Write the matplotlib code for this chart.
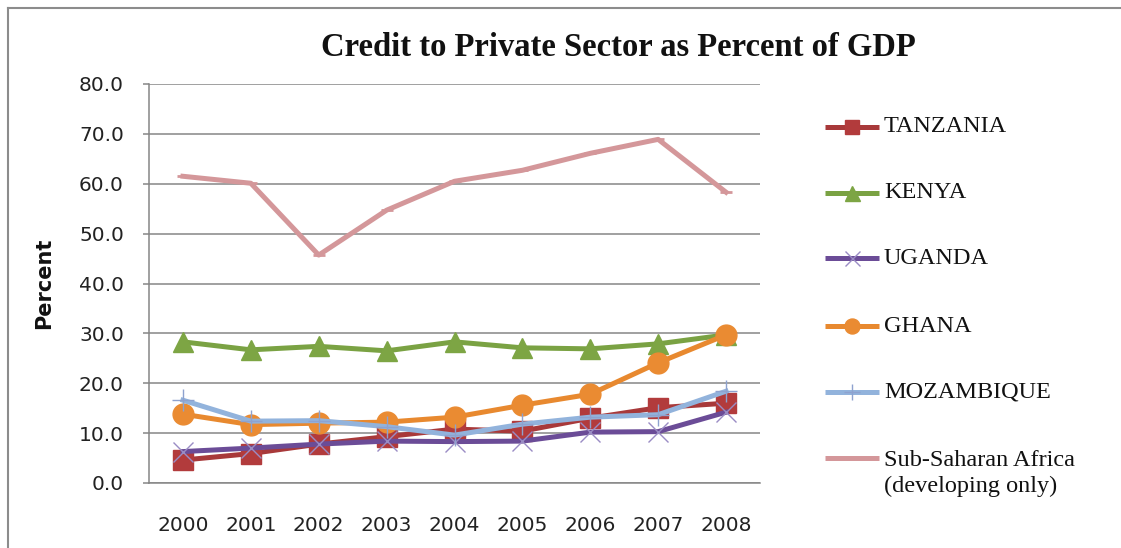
import matplotlib
matplotlib.use("Agg")
import matplotlib.pyplot as plt
from matplotlib.lines import Line2D

years = ["2000", "2001", "2002", "2003", "2004", "2005", "2006", "2007", "2008"]

tanzania = [4.6, 5.9, 7.8, 9.3, 10.8, 10.4, 13.0, 15.1, 16.0]
kenya = [28.3, 26.7, 27.4, 26.5, 28.3, 27.1, 26.9, 27.9, 29.7]
uganda = [6.3, 7.0, 7.8, 8.4, 8.3, 8.4, 10.2, 10.3, 14.2]
ghana = [13.8, 11.7, 12.0, 12.2, 13.2, 15.6, 17.8, 24.1, 29.7]
mozambique = [16.6, 12.4, 12.5, 11.3, 9.6, 11.8, 13.2, 13.7, 18.4]
ssa = [61.5, 60.1, 45.7, 54.7, 60.5, 62.7, 66.1, 68.9, 58.3]

yticks = [0, 10, 20, 30, 40, 50, 60, 70, 80]

W, H = 1121, 548
fig = plt.figure(figsize=(W / 100, H / 100), dpi=100)
ax = fig.add_axes([149 / W, 1 - 483 / H, (760 - 149) / W, (483 - 84) / H])

x = list(range(len(years)))
lw = 3.6
series = [
    ("TANZANIA", tanzania, dict(color="#A8393A", marker="s", markersize=14,
                                markerfacecolor="#B23B3C", markeredgecolor="#B23B3C")),
    ("KENYA", kenya, dict(color="#7AA243", marker="^", markersize=15,
                          markerfacecolor="#7DA544", markeredgecolor="#7DA544")),
    ("UGANDA", uganda, dict(color="#6B4C97", marker="x", markersize=15, markeredgewidth=1.0,
                            markeredgecolor="#9A8CC4")),
    ("GHANA", ghana, dict(color="#E8892F", marker="o", markersize=15,
                          markerfacecolor="#EA8B32", markeredgecolor="#EA8B32")),
    ("MOZAMBIQUE", mozambique, dict(color="#92B3DC", marker="+", markersize=16, markeredgewidth=1.0,
                                    markeredgecolor="#8EA2CF")),
    ("Sub-Saharan Africa\n(developing only)", ssa, dict(color="#D4979A")),
]

for i, (name, vals, st) in enumerate(series):
    extra = {}
    if "marker" not in st:
        extra = dict(marker="_", markersize=9, markeredgewidth=2.0)
    ax.plot(x, vals, linewidth=lw, solid_joinstyle="round", zorder=3 + i,
            clip_on=False, **st, **extra)

ax.set_xlim(-0.5, len(years) - 0.5)
ax.set_ylim(0, 80)
ax.set_yticks(yticks)
ax.set_yticklabels([f"{v:.1f}" for v in yticks])
ax.set_xticks(x)
ax.set_xticklabels(years)

grid_c = "#868686"
ax.yaxis.grid(True, color=grid_c, linewidth=1.1)
ax.set_axisbelow(True)
for s in ["top", "right"]:
    ax.spines[s].set_visible(False)
for s in ["left", "bottom"]:
    ax.spines[s].set_color(grid_c)
    ax.spines[s].set_linewidth(1.1)

tick_font = "DejaVu Sans"
ax.tick_params(axis="y", length=4, color=grid_c, width=1.1, pad=14,
               labelsize=14.5, labelcolor="#222222")
ax.tick_params(axis="x", length=0, pad=24, labelsize=14.5, labelcolor="#222222")
for lab in ax.get_yticklabels() + ax.get_xticklabels():
    lab.set_fontfamily(tick_font)

ax.set_ylabel("Percent", fontsize=15, fontweight="bold", fontfamily=tick_font,
              labelpad=18, color="#111111")

fig.text(618 / W, 1 - 47 / H, "Credit to Private Sector as Percent of GDP",
         ha="center", va="center", fontsize=23.5, fontweight="bold",
         fontfamily="Liberation Serif", color="#111111")

# legend drawn in figure pixel space
leg_y = [127, 193, 258, 326, 392, 458]
for (name, vals, st), yy in zip(series, leg_y):
    yf = 1 - yy / H
    fig.add_artist(Line2D([825 / W, 879 / W], [yf, yf], transform=fig.transFigure,
                          color=st["color"], linewidth=lw, solid_capstyle="butt"))
    mk = {k: v for k, v in st.items() if k != "color"}
    if "marker" in mk:
        mk["markersize"] = mk["markersize"] * 0.72
        fig.add_artist(Line2D([852 / W], [yf], transform=fig.transFigure,
                              linestyle="none", **mk))
    if "\n" in name:
        fig.text(884 / W, yf + 8 / H, name, ha="left", va="top", fontsize=17.5,
                 fontfamily="Liberation Serif", color="#111111", linespacing=1.3)
    else:
        fig.text(884 / W, yf, name, ha="left", va="center", fontsize=17.5,
                 fontfamily="Liberation Serif", color="#111111")

# outer chart frame
fc = "#8C8C8C"
fig.add_artist(Line2D([8 / W, 8 / W], [0, 1 - 8 / H], transform=fig.transFigure, color=fc, linewidth=1.5))
fig.add_artist(Line2D([8 / W, 1], [1 - 8 / H, 1 - 8 / H], transform=fig.transFigure, color=fc, linewidth=1.5))

fig.savefig("out.png", dpi=100, facecolor="white")
